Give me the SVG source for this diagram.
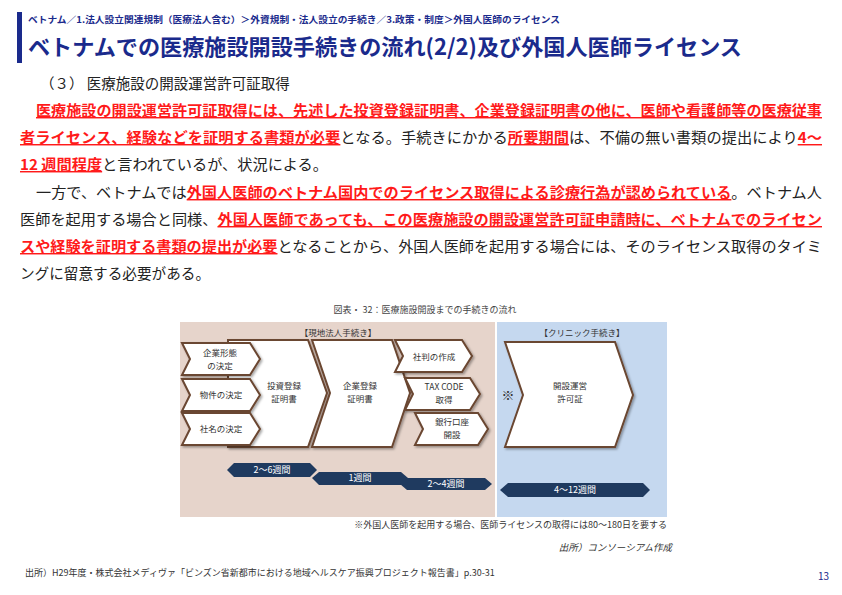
<svg xmlns="http://www.w3.org/2000/svg" width="842" height="595" viewBox="0 0 842 595">
<style>
text{font-family:"Noto Sans CJK JP","Noto Sans",sans-serif}
.p{font-size:14.5px;fill:#222}
.r{fill:#ff1a1a;font-weight:bold;text-decoration:underline}
.sh{fill:#fff;stroke:#6b4630;stroke-width:2;filter:url(#ds)}
.t{font-size:8.5px;fill:#333;text-anchor:middle}
.bar{fill:#1f3a5f}
.bt{font-size:9px;fill:#fff;text-anchor:middle}
</style>
<defs><filter id="ds" x="-10%" y="-10%" width="130%" height="130%"><feDropShadow dx="1.5" dy="1.5" stdDeviation="1" flood-color="#000" flood-opacity="0.35"/></filter></defs>
<rect x="0" y="0" width="842" height="595" fill="#fff"/>
<g id="header">
<rect x="17" y="12" width="5" height="51" fill="#1a2a8c"/>
<text x="28" y="23" font-size="9" font-weight="bold" fill="#1a2a8c" textLength="532" lengthAdjust="spacingAndGlyphs">ベトナム／1.法人設立関連規制（医療法人含む）＞外資規制・法人設立の手続き／3.政策・制度＞外国人医師のライセンス</text>
<text x="28" y="55" font-size="22" font-weight="bold" fill="#1a2a8c" textLength="714" lengthAdjust="spacingAndGlyphs">ベトナムでの医療施設開設手続きの流れ(2/2)及び外国人医師ライセンス</text>
</g>
<g id="body">
<text class="p" x="40" y="89">（３） 医療施設の開設運営許可証取得</text>
<text class="p" x="36" y="116" textLength="786" lengthAdjust="spacingAndGlyphs"><tspan class="r">医療施設の開設運営許可証取得には、先述した投資登録証明書、企業登録証明書の他に、医師や看護師等の医療従事</tspan></text>
<text class="p" x="20" y="143" textLength="802" lengthAdjust="spacingAndGlyphs"><tspan class="r">者ライセンス、経験などを証明する書類が必要</tspan>となる。手続きにかかる<tspan class="r">所要期間</tspan>は、不備の無い書類の提出により<tspan class="r">4～</tspan></text>
<text class="p" x="20" y="170" textLength="308" lengthAdjust="spacingAndGlyphs"><tspan class="r">12 週間程度</tspan>と言われているが、状況による。</text>
<text class="p" x="36" y="198" textLength="786" lengthAdjust="spacingAndGlyphs">一方で、ベトナムでは<tspan class="r">外国人医師のベトナム国内でのライセンス取得による診療行為が認められている</tspan>。ベトナム人</text>
<text class="p" x="20" y="225" textLength="802" lengthAdjust="spacingAndGlyphs">医師を起用する場合と同様、<tspan class="r">外国人医師であっても、この医療施設の開設運営許可証申請時に、ベトナムでのライセン</tspan></text>
<text class="p" x="20" y="252" textLength="802" lengthAdjust="spacingAndGlyphs"><tspan class="r">スや経験を証明する書類の提出が必要</tspan>となることから、外国人医師を起用する場合には、そのライセンス取得のタイミ</text>
<text class="p" x="20" y="279" textLength="190" lengthAdjust="spacingAndGlyphs">ングに留意する必要がある。</text>
</g>
<g id="figure">
<text x="425" y="313" font-size="9" fill="#444" text-anchor="middle">図表・ 32：医療施設開設までの手続きの流れ</text>
<rect x="180" y="322" width="315" height="195" fill="#e6d4cb"/>
<rect x="497" y="322" width="170" height="195" fill="#c5d8ef"/>
<text x="338" y="336" class="t">【現地法人手続き】</text>
<text x="582" y="336" class="t">【クリニック手続き】</text>
</g>
<g id="n-toshi"><polygon class="sh" points="228,340 308,340 327,393 308,447 228,447"/><text class="t" x="284" y="389">投資登録</text><text class="t" x="284" y="402">証明書</text></g>
<g id="n-kigyo-touroku"><polygon class="sh" points="312,340 392,340 410,393 392,447 312,447 330,393"/><text class="t" x="360" y="389">企業登録</text><text class="t" x="360" y="402">証明書</text></g>
<g id="n-keitai"><polygon class="sh" points="182,343 250,343 260,359 250,375 182,375 190,359"/><text class="t" x="220" y="356">企業形態</text><text class="t" x="220" y="369">の決定</text></g>
<g id="n-bukken"><polygon class="sh" points="182,379 250,379 260,395 250,411 182,411 190,395"/><text class="t" x="221" y="398">物件の決定</text></g>
<g id="n-shamei"><polygon class="sh" points="182,413 250,413 260,429 250,445 182,445 190,429"/><text class="t" x="221" y="432">社名の決定</text></g>
<g id="n-shaban"><polygon class="sh" points="395,340 462,340 472,356 462,372 395,372 403,356"/><text class="t" x="434" y="360">社判の作成</text></g>
<g id="n-tax"><polygon class="sh" points="405,378 470,378 480,394 470,410 405,410 413,394"/><text class="t" x="444" y="390">TAX CODE</text><text class="t" x="444" y="403">取得</text></g>
<g id="n-ginko"><polygon class="sh" points="415,413 478,413 488,429 478,445 415,445 423,429"/><text class="t" x="452" y="425">銀行口座</text><text class="t" x="452" y="438">開設</text></g>
<g id="n-kaisetsu"><polygon class="sh" points="505,342 615,342 633,395 615,447 505,447 523,395"/><text class="t" x="570" y="389">開設運営</text><text class="t" x="570" y="402">許可証</text><text x="508" y="400" font-size="13" fill="#333" text-anchor="middle">※</text></g>
<g id="durations">
<polygon class="bar" points="234,463 310,463 317,470 310,477 234,477 227,470"/><text class="bt" x="272" y="473">2～6週間</text>
<polygon class="bar" points="319,472 401,472 408,478 401,485 319,485 312,478"/><text class="bt" x="360" y="481">1週間</text>
<polygon class="bar" points="407,478 485,478 492,484 485,490 407,490 400,484"/><text class="bt" x="446" y="487">2～4週間</text>
<polygon class="bar" points="508,483 643,483 650,490 643,497 508,497 500,490"/><text class="bt" x="575" y="493">4～12週間</text>
</g>
<g id="notes">
<text x="667" y="528" font-size="9" fill="#333" text-anchor="end">※外国人医師を起用する場合、医師ライセンスの取得には80～180日を要する</text>
<text x="672" y="551" font-size="9.5" fill="#333" text-anchor="end" font-style="italic">出所）コンソーシアム作成</text>
<text x="25" y="576" font-size="9" fill="#333">出所）H29年度・株式会社メディヴァ「ビンズン省新都市における地域ヘルスケア振興プロジェクト報告書」p.30-31</text>
<text x="818" y="580" font-size="10" fill="#1a2a8c">13</text>
</g>
</svg>
